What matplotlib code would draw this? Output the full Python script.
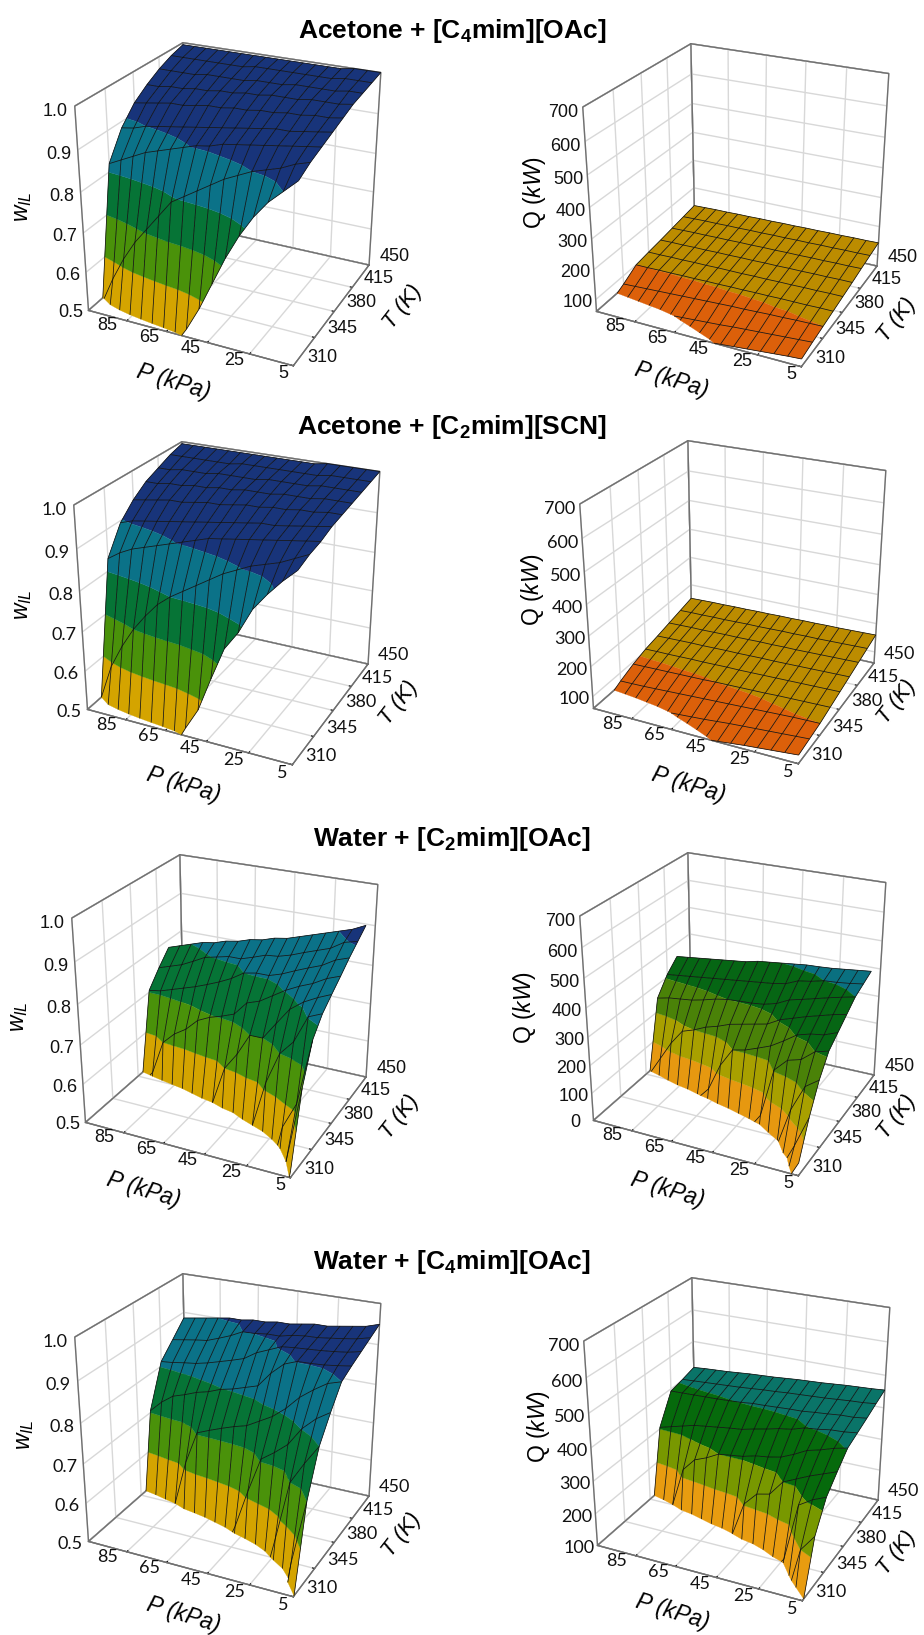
import numpy as np
import matplotlib
matplotlib.use("Agg")
import matplotlib.pyplot as plt
from mpl_toolkits.mplot3d import proj3d
from mpl_toolkits.mplot3d.art3d import Poly3DCollection, Line3DCollection

plt.rcParams['mathtext.fontset'] = 'custom'
plt.rcParams['mathtext.rm'] = 'Liberation Sans'
plt.rcParams['mathtext.it'] = 'Liberation Sans:italic'
plt.rcParams['mathtext.bf'] = 'Liberation Sans:bold'

W, H = 924, 1635

P_VALUES = [5, 10, 15, 20, 25, 30, 35, 40, 45, 50, 55, 60, 65, 70, 75, 80, 85]
T_FULL = [310, 327.5, 345, 362.5, 380, 397.5, 415, 432.5, 450]
T_SHORT = [310, 325, 340, 355, 370, 385, 400, 415, 430]
P_TICK_LABELS = ['85', '65', '45', '25', '5']
T_TICKS = [310, 345, 380, 415, 450]

# rows are T, columns are P (5 -> 85); values under the axis minimum are hidden by the floor
w_acetone_c4 = [
    [.93, .90, .87, .83, .78, .72, .65, .58, .52, .47, .44, .42, .40, .38, .36, .35, .34],
    [.945, .935, .92, .91, .90, .885, .87, .85, .83, .81, .79, .75, .71, .67, .62, .56, .49],
    [.955, .95, .945, .94, .935, .93, .925, .92, .91, .905, .895, .885, .875, .865, .85, .835, .82],
    [.965, .96, .955, .95, .95, .945, .94, .935, .93, .925, .92, .915, .91, .905, .90, .89, .885],
    [.975, .97, .97, .965, .965, .96, .96, .955, .955, .95, .95, .945, .94, .94, .935, .93, .925],
    [.985, .98, .98, .98, .975, .975, .975, .97, .97, .965, .965, .96, .96, .955, .955, .95, .95],
    [.99, .99, .985, .985, .985, .985, .98, .98, .98, .975, .975, .975, .975, .97, .97, .97, .97],
    [.995, .995, .995, .99, .99, .99, .99, .99, .99, .99, .985, .985, .985, .985, .985, .985, .985],
    [1, 1, 1, .995, .995, .995, .995, .995, .995, .995, .995, .995, .995, .995, .995, .995, .995],
]
q_acetone_c4 = [
    [85, 82, 78, 74, 70, 66, 62, 58, 55, 52, 50, 48, 46, 44, 42, 40, 38],
    [93, 90, 87, 84, 81, 78, 75, 71, 68, 65, 62, 59, 56, 54, 52, 50, 48],
    [100, 99, 98, 96, 95, 93, 91, 90, 88, 86, 84, 82, 80, 78, 76, 74, 72],
    [107, 107, 106, 106, 106, 105, 105, 104, 104, 103, 103, 102, 102, 101, 101, 100, 100],
    [114, 114, 113, 113, 112, 112, 111, 111, 110, 110, 110, 109, 109, 108, 108, 107, 107],
    [121, 121, 120, 120, 119, 119, 118, 118, 117, 117, 116, 116, 115, 115, 114, 114, 113],
    [129, 128, 128, 127, 127, 126, 126, 125, 125, 124, 124, 123, 123, 122, 122, 121, 120],
    [136, 135, 135, 134, 134, 133, 133, 132, 132, 131, 131, 130, 130, 129, 129, 128, 127],
    [143, 142, 142, 141, 141, 140, 140, 139, 139, 138, 138, 137, 137, 136, 136, 135, 134],
]
w_acetone_c2 = [
    [.95, .92, .885, .845, .785, .74, .66, .575, .52, .46, .43, .41, .39, .37, .35, .34, .33],
    [.96, .945, .93, .92, .91, .895, .88, .86, .84, .82, .80, .775, .74, .70, .65, .59, .50],
    [.965, .96, .955, .95, .945, .94, .935, .93, .925, .915, .905, .895, .885, .875, .865, .85, .83],
    [.975, .97, .965, .96, .955, .955, .95, .945, .94, .935, .93, .925, .92, .915, .91, .905, .895],
    [.98, .98, .975, .975, .97, .97, .965, .965, .96, .955, .955, .95, .945, .945, .94, .935, .93],
    [.985, .985, .985, .98, .98, .98, .975, .975, .975, .97, .97, .965, .965, .96, .96, .955, .955],
    [.99, .99, .99, .99, .985, .985, .985, .985, .98, .98, .98, .98, .975, .975, .975, .97, .97],
    [.995, .995, .995, .995, .99, .99, .99, .99, .99, .99, .99, .985, .985, .985, .985, .985, .985],
    [1, 1, 1, 1, 1, .995, .995, .995, .995, .995, .995, .995, .995, .995, .995, .995, .995],
]
q_acetone_c2 = [
    [88, 84, 80, 76, 72, 67, 62, 58, 55, 52, 50, 48, 46, 44, 42, 40, 38],
    [94, 91, 88, 85, 82, 79, 76, 72, 68, 65, 62, 59, 56, 54, 52, 50, 48],
    [100, 99, 98, 96, 94, 92, 90, 88, 86, 84, 82, 80, 78, 76, 74, 73, 72],
    [110, 109, 108, 107, 106, 104, 103, 102, 101, 100, 98, 97, 96, 95, 94, 93, 92],
    [120, 119, 118, 117, 116, 115, 114, 113, 112, 112, 111, 110, 110, 109, 108, 108, 107],
    [130, 129, 128, 127, 126, 125, 124, 124, 123, 122, 122, 121, 120, 120, 119, 118, 117],
    [140, 139, 138, 137, 136, 135, 135, 134, 134, 133, 132, 132, 131, 130, 130, 129, 128],
    [150, 149, 148, 147, 146, 146, 145, 145, 144, 143, 143, 142, 141, 141, 140, 140, 139],
    [160, 159, 158, 157, 157, 156, 156, 155, 155, 154, 154, 153, 153, 152, 152, 151, 150],
]
w_water_c2 = [
    [.517, .3, .25, .2, .2, .2, .2, .2, .2, .2, .2, .2, .2, .2, .2, .2, .2],
    [.69, .50, .30, .2, .2, .2, .2, .2, .2, .2, .2, .2, .2, .2, .2, .2, .2],
    [.78, .617, .55, .40, .17, .3, .2, .2, .2, .2, .2, .2, .2, .2, .2, .2, .2],
    [.817, .803, .736, .70, .62, .50, .427, .284, .2, .3, .2, .2, .2, .2, .2, .2, .2],
    [.84, .826, .809, .785, .743, .70, .70, .644, .60, .50, .47, .41, .33, .24, .1, .3, .3],
    [.862, .85, .832, .819, .803, .783, .763, .752, .717, .705, .695, .68, .65, .63, .60, .51, .47],
    [.885, .874, .855, .843, .83, .816, .806, .806, .80, .78, .765, .752, .74, .73, .72, .71, .705],
    [.905, .897, .877, .866, .855, .843, .834, .831, .82, .81, .81, .803, .796, .78, .765, .755, .745],
    [.925, .91, .90, .89, .88, .87, .86, .855, .845, .84, .83, .825, .815, .81, .80, .79, .78],
]
q_water_c2 = [
    [45, -44, -100, -100, -100, -100, -100, -100, -100, -100, -100, -100, -100, -100, -100, -100, -100],
    [160, 50, -46, -100, -100, -100, -100, -100, -100, -100, -100, -100, -100, -100, -100, -100, -100],
    [250, 217, 125, -18, -180, -300, -100, -100, -100, -100, -100, -100, -100, -100, -100, -100, -100],
    [313, 300, 263, 250, 205, 30, -35, -105, -230, -300, -300, -200, -200, -200, -200, -200, -200],
    [342, 324, 317, 304, 273, 245, 227, 210, 200, 133, 33, -16, -72, -124, -195, -300, -100],
    [371, 361, 348, 335, 320, 305, 280, 270, 260, 250, 233, 220, 200, 185, 130, 60, -10],
    [400, 390, 379, 367, 355, 344, 322, 310, 305, 303, 300, 292, 280, 270, 265, 260, 250],
    [415, 408, 403, 400, 389, 382, 363, 355, 350, 345, 340, 335, 330, 325, 320, 315, 310],
    [430, 425, 420, 415, 412, 410, 405, 400, 395, 390, 380, 375, 370, 365, 360, 355, 350],
]
w_water_c4 = [
    [.487, .384, .28, .2, .2, .2, .2, .2, .2, .2, .2, .2, .2, .2, .2, .2, .2],
    [.70, .54, .311, .2, .2, .2, .2, .2, .2, .2, .2, .2, .2, .2, .2, .2, .2],
    [.80, .753, .70, .55, .408, .224, .1, .2, .3, .2, .2, .2, .2, .2, .2, .2, .2],
    [.853, .832, .802, .757, .73, .707, .617, .517, .44, .364, .243, .1, .1, .2, .2, .2, .2],
    [.90, .89, .869, .845, .812, .786, .768, .75, .741, .73, .718, .705, .62, .50, .46, .406, .363],
    [.914, .909, .905, .903, .902, .89, .862, .825, .815, .805, .798, .786, .778, .766, .756, .734, .705],
    [.926, .919, .915, .912, .91, .908, .905, .892, .879, .859, .849, .84, .831, .824, .82, .815, .812],
    [.938, .93, .925, .921, .917, .916, .912, .905, .905, .901, .90, .885, .873, .862, .858, .853, .848],
    [.95, .94, .935, .93, .925, .925, .92, .915, .915, .91, .91, .905, .905, .90, .895, .89, .885],
]
q_water_c4 = [
    [80, -100, -100, -100, -100, -100, -100, -100, -100, -100, -100, -100, -100, -100, -100, -100, -100],
    [250, 200, 36, -65, -100, -100, -100, -100, -100, -100, -100, -100, -100, -100, -100, -100, -100],
    [327, 310, 285, 110, 59, -30, -200, -300, -200, -100, -100, -100, -100, -100, -100, -100, -100],
    [366, 351, 336, 318, 300, 254, 245, 205, 95, 49, 8, -70, -216, -300, 0, 0, 0],
    [402, 393, 380, 370, 350, 333, 325, 320, 310, 305, 300, 280, 265, 225, 100, 50, -7],
    [415, 410, 408, 402, 398, 386, 380, 371, 363, 354, 350, 345, 340, 335, 325, 315, 305],
    [428, 423, 422, 418, 415, 411, 410, 408, 406, 405, 401, 399, 397, 396, 395, 394, 393],
    [442, 438, 436, 433, 430, 428, 426, 424, 421, 419, 416, 413, 411, 409, 407, 405, 403],
    [455, 452, 450, 448, 445, 442, 440, 438, 435, 432, 430, 428, 425, 422, 420, 418, 415],
]

TITLES = [r'Acetone + [C$_{\mathbf{4}}$mim][OAc]', r'Acetone + [C$_{\mathbf{2}}$mim][SCN]',
          r'Water + [C$_{\mathbf{2}}$mim][OAc]', r'Water + [C$_{\mathbf{4}}$mim][OAc]']
TITLE_Y = [31, 427, 839, 1262]

W_TICKS = [.5, .6, .7, .8, .9, 1.0]
W_COLORS = ['#d4a400', '#4a920a', '#067436', '#0b7288', '#18347a']
Q_TICKS_A = [100, 200, 300, 400, 500, 600, 700]

ARIAL = 'Liberation Sans'
CALIBRI = 'Lato'

# data, T values, z limits, band levels, band colours, z ticks, box centre, label positions, tick font
panels = [
    dict(z=w_acetone_c4, t=T_FULL, zlim=(.5, 1.0), lev=W_TICKS, col=W_COLORS, zt=W_TICKS, c=(229, 197),
         zlab='w', zpos=(22, 207), ppos=(173, 382), tpos=(403, 307), font=ARIAL),
    dict(z=q_acetone_c4, t=T_FULL, zlim=(60, 700), lev=[60, 100, 200], col=['#dc600a', '#bc8c00'], zt=Q_TICKS_A, c=(737, 198),
         zlab='Q', zpos=(535, 193), ppos=(671, 380), tpos=(897, 320), font=ARIAL),
    dict(z=w_acetone_c2, t=T_FULL, zlim=(.5, 1.0), lev=W_TICKS, col=W_COLORS, zt=W_TICKS, c=(228, 596),
         zlab='w', zpos=(23, 605), ppos=(183, 785), tpos=(399, 703), font=CALIBRI),
    dict(z=q_acetone_c2, t=T_FULL, zlim=(60, 700), lev=[60, 100, 200], col=['#dc600a', '#bc8c00'], zt=Q_TICKS_A, c=(734, 595),
         zlab='Q', zpos=(533, 590), ppos=(688, 785), tpos=(897, 702), font=CALIBRI),
    dict(z=w_water_c2, t=T_SHORT, zlim=(.5, 1.0), lev=W_TICKS, col=W_COLORS, zt=W_TICKS, c=(226, 1009),
         zlab='w', zpos=(19, 1017), ppos=(143, 1190), tpos=(400, 1117), font=ARIAL),
    dict(z=q_water_c2, t=T_SHORT, zlim=(0, 700), lev=[0, 100, 200, 300, 400, 500],
         col=['#e69810', '#a8a000', '#4a8208', '#066614', '#0a7080'], zt=[0] + Q_TICKS_A, c=(734, 1007),
         zlab='Q', zpos=(525, 1008), ppos=(667, 1190), tpos=(897, 1117), font=ARIAL),
    dict(z=w_water_c4, t=T_FULL, zlim=(.5, 1.0), lev=W_TICKS, col=W_COLORS, zt=W_TICKS, c=(229, 1428),
         zlab='w', zpos=(25, 1435), ppos=(183, 1615), tpos=(402, 1535), font=CALIBRI),
    dict(z=q_water_c4, t=T_FULL, zlim=(100, 700), lev=[100, 200, 300, 400, 500],
         col=['#e89c10', '#789800', '#066a0c', '#0a7468'], zt=Q_TICKS_A, c=(738, 1432),
         zlab='Q', zpos=(538, 1427), ppos=(672, 1612), tpos=(897, 1553), font=CALIBRI),
]


def clip_poly(pts, lo, hi):
    # cut a flat polygon to the z range of one colour band
    for level, keep_above in ((lo, True), (hi, False)):
        out = []
        for i in range(len(pts)):
            a, b = pts[i], pts[(i + 1) % len(pts)]
            ina = a[2] >= level if keep_above else a[2] <= level
            inb = b[2] >= level if keep_above else b[2] <= level
            if ina:
                out.append(a)
            if ina != inb:
                f = (level - a[2]) / (b[2] - a[2])
                out.append(tuple(a[k] + f * (b[k] - a[k]) for k in range(3)))
        pts = out
        if len(pts) < 3:
            return []
    return pts


def band_polys(P, T, Z, levels, colors):
    polys, faces = [], []
    for j in range(len(T) - 1):
        for i in range(len(P) - 1):
            cell = [(P[i], T[j], Z[j, i]), (P[i + 1], T[j], Z[j, i + 1]),
                    (P[i + 1], T[j + 1], Z[j + 1, i + 1]), (P[i], T[j + 1], Z[j + 1, i])]
            for b in range(len(colors)):
                poly = clip_poly(cell, levels[b], levels[b + 1])
                if poly:
                    polys.append(poly)
                    faces.append(colors[b])
    return polys, faces


def clip_seg(a, b, zmin):
    if a[2] < zmin and b[2] < zmin:
        return None
    if a[2] < b[2]:
        a, b = b, a
    if b[2] < zmin:
        f = (zmin - a[2]) / (b[2] - a[2])
        b = tuple(a[k] + f * (b[k] - a[k]) for k in range(3))
    return [a, b]


def mesh_segs(P, T, Z, zmin):
    segs = []
    for j in range(len(T)):
        for i in range(len(P)):
            here = (P[i], T[j], Z[j, i])
            if i + 1 < len(P):
                s = clip_seg(here, (P[i + 1], T[j], Z[j, i + 1]), zmin)
                if s:
                    segs.append(s)
            if j + 1 < len(T):
                s = clip_seg(here, (P[i], T[j + 1], Z[j + 1, i]), zmin)
                if s:
                    segs.append(s)
    return segs


def px(x, y):
    return x / W, 1 - y / H


def label3d(ax, x, y, z, text, **style):
    # project by hand so the label is a plain 2D text at the right place
    x2, y2, _ = proj3d.proj_transform(x, y, z, ax.get_proj())
    ax.text2D(x2, y2, text, transform=ax.transData, **style)


def draw_frame(ax, zmin, zmax):
    # grid lines at the limits paint over the pane edges, so the dark box goes on top
    lo, hi = 310, 450
    edges = [[(85, lo, zmin), (85, lo, zmax), (85, hi, zmax), (5, hi, zmax), (5, hi, zmin), (85, hi, zmin), (85, lo, zmin),
              (5, lo, zmin), (5, hi, zmin)],
             [(85, hi, zmin), (85, hi, zmax)]]
    for edge in edges:
        xs, ys, zs = zip(*edge)
        ax.plot(xs, ys, zs, color='#707070', linewidth=1.0, zorder=1)


def draw_panel(fig, p, size=366):
    cx, cy = p['c']
    rect = [(cx - size / 2) / W, 1 - (cy + size / 2) / H, size / W, size / H]
    ax = fig.add_axes(rect, projection='3d', computed_zorder=False)
    ax.patch.set_alpha(0)
    ax.set_proj_type('persp', focal_length=0.55)
    ax.view_init(elev=25.5, azim=-64.3)
    ax.set_box_aspect((228, 215, 224), zoom=1.0)

    Z = np.array(p['z'], dtype=float)
    zmin, zmax = p['zlim']
    draw_frame(ax, zmin, zmax)
    polys, faces = band_polys(P_VALUES, p['t'], Z, p['lev'], p['col'])
    ax.add_collection3d(Poly3DCollection(polys, facecolors=faces, edgecolors=faces, linewidths=0.2, zorder=2))
    ax.add_collection3d(Line3DCollection(mesh_segs(P_VALUES, p['t'], Z, zmin), colors='#101010',
                                         linewidths=0.55, zorder=3))

    ax.set_xlim(85, 5)
    ax.set_ylim(310, 450)
    ax.set_zlim(zmin, zmax)
    ax.set_xticks([85, 69, 53, 37, 21, 5])
    ax.set_yticks(T_TICKS)
    ax.set_zticks(p['zt'])
    for axis in (ax.xaxis, ax.yaxis, ax.zaxis):
        axis.set_tick_params(label1On=False)
        axis.set_pane_color((1, 1, 1, 1))
        axis.pane.set_edgecolor('#707070')
        axis.pane.set_linewidth(1.0)
        axis.line.set_color('#707070')
        axis._axinfo['grid'].update(color='#d8d8d8', linewidth=1.0)
        axis._axinfo['tick'].update(inward_factor=0.0, outward_factor=0.12, color='#707070')
    ax.zaxis.set_ticks_position('none')

    span = zmax - zmin
    style = dict(ha='center', va='center', fontsize=13, family=p['font'], color='#111111')
    # the P labels sit between the grid lines in the reference
    for pos, lab in zip([77.4, 60, 43.4, 26.6, 8.4], P_TICK_LABELS):
        label3d(ax, pos, 310, zmin - 0.055 * span, lab, **style)
    for t in T_TICKS:
        label3d(ax, 5 - 10, t, zmin + 0.08 * span, str(t), **style)
    for z in p['zt']:
        lab = '%.1f' % z if zmax == 1.0 else str(z)
        label3d(ax, 85 + 8, 310, z - 0.04 * span, lab, **style)

    x, y = px(*p['ppos'])
    fig.text(x, y, 'P (kPa)', fontsize=16.5, style='italic', family=ARIAL, rotation=-17,
             ha='center', va='center')
    x, y = px(*p['tpos'])
    fig.text(x, y, 'T (K)', fontsize=16, style='italic', family=ARIAL, rotation=52,
             ha='center', va='center')
    x, y = px(*p['zpos'])
    if p['zlab'] == 'w':
        fig.text(x, y, r'$\mathit{w}_{\mathit{IL}}$', fontsize=16.5, rotation=90, ha='center', va='center')
    else:
        fig.text(x, y, r'Q $\mathit{(kW)}$', fontsize=16.5, rotation=90, ha='center', va='center', family=ARIAL)


def main():
    fig = plt.figure(figsize=(W / 100, H / 100), dpi=100, facecolor='white')
    for p in panels:
        draw_panel(fig, p)
    for title, y in zip(TITLES, TITLE_Y):
        fx, fy = px(452, y)
        fig.text(fx, fy, title, fontsize=19, fontweight='bold', family=ARIAL, ha='center', va='center')
    fig.savefig('out.png', dpi=100)


if __name__ == "__main__":
    main()
